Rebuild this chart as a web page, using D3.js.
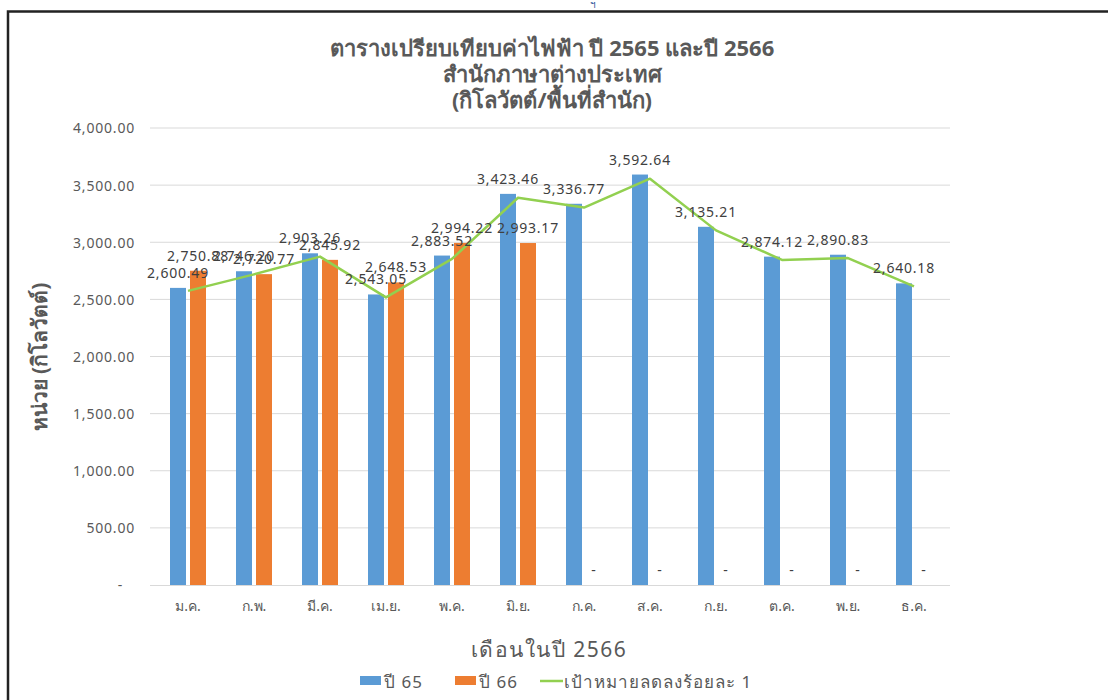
<!DOCTYPE html>
<html>
<head>
<meta charset="utf-8">
<script src="https://cdn.jsdelivr.net/npm/d3@7"></script>
<style>
  body { margin: 0; background: #fff; }
  text { font-family: Tahoma, "Noto Sans", "DejaVu Sans", sans-serif; }
</style>
</head>
<body>
<div id="chart"></div>
<script>
// data
var months = ['ม.ค.', 'ก.พ.', 'มี.ค.', 'เม.ย.', 'พ.ค.', 'มิ.ย.', 'ก.ค.', 'ส.ค.', 'ก.ย.', 'ต.ค.', 'พ.ย.', 'ธ.ค.'];
var year65 = [2600.49, 2746.20, 2903.26, 2543.05, 2883.52, 3423.46, 3336.77, 3592.64, 3135.21, 2874.12, 2890.83, 2640.18];
var year66 = [2750.88, 2720.77, 2845.92, 2648.53, 2994.22, 2993.17, 0, 0, 0, 0, 0, 0];
var target = [2574.49, 2718.74, 2874.23, 2517.62, 2854.68, 3389.23, 3303.40, 3556.71, 3103.86, 2845.38, 2861.92, 2613.78];
var yTicks = [0, 500, 1000, 1500, 2000, 2500, 3000, 3500, 4000];
var seriesNames = ['ปี 65', 'ปี 66', 'เป้าหมายลดลงร้อยละ 1'];
var titleLines = ['ตารางเปรียบเทียบค่าไฟฟ้า ปี 2565 และปี 2566', 'สำนักภาษาต่างประเทศ', '(กิโลวัตต์/พื้นที่สำนัก)'];

var width = 1108,
    height = 700;

var colors = ['#5b9bd5', '#ed7d31', '#92d050'];

var svg = d3.select('#chart').append('svg')
    .attr('width', width)
    .attr('height', height);

//frame
svg.append('path')
    .attr('d', 'M8,700 V11.5 H1108')
    .attr('fill', 'none')
    .attr('stroke', '#222')
    .attr('stroke-width', 2.5);

svg.append('text')
    .attr('x', 590).attr('y', 8)
    .attr('fill', '#2f5597')
    .attr('font-size', 10)
    .text('ฯ');

//scales
var x = d3.scaleBand()
    .domain(months)
    .range([155, 947]);

var groupW = 36;
var x1 = d3.scaleBand()
    .domain([0, 1])
    .range([0, groupW])
    .paddingInner(0.2);

var y = d3.scaleLinear()
    .domain([0, 4000])
    .range([585, 128]);

var fmt = d3.format(',.2f');

//gridlines
svg.append('g')
    .selectAll('line')
    .data(yTicks.slice(1))
  .enter().append('line')
    .attr('x1', 150).attr('x2', 950)
    .attr('y1', function(d){ return y(d); })
    .attr('y2', function(d){ return y(d); })
    .attr('stroke', '#d9d9d9')
    .attr('stroke-width', 1);

//y axis
var yAxis = d3.axisLeft(y)
    .tickValues(yTicks)
    .tickSize(0)
    .tickPadding(0)
    .tickFormat(function(d){ return d === 0 ? '-' : fmt(d); });

var gy = svg.append('g')
    .attr('transform', 'translate(135,0)')
    .call(yAxis);
gy.select('.domain').remove();
gy.selectAll('text')
    .attr('font-size', 14)
    .attr('letter-spacing', 0.8)
    .attr('fill', '#595959')
    .attr('font-family', null)
    .attr('dy', '0.35em')
    .attr('dx', function(d){ return d === 0 ? -12 : 0; });

//x axis
var xAxis = d3.axisBottom(x).tickSize(0).tickPadding(12);
var gx = svg.append('g')
    .attr('transform', 'translate(0,585)')
    .call(xAxis);
gx.select('.domain')
    .attr('stroke', '#d9d9d9')
    .attr('d', 'M150,0.5H950');
gx.selectAll('text')
    .attr('font-size', 14)
    .attr('fill', '#595959')
    .attr('font-family', null)
    .attr('dy', '1em');

//bars
var series = [year65, year66];
function barX(i, s) {
    return x(months[i]) + (x.bandwidth() - groupW) / 2 + x1(s);
}

series.forEach(function(vals, s){
    svg.append('g')
        .selectAll('rect')
        .data(vals)
      .enter().append('rect')
        .attr('x', function(d, i){ return barX(i, s); })
        .attr('width', x1.bandwidth())
        .attr('y', function(d){ return y(d); })
        .attr('height', function(d){ return y(0) - y(d); })
        .attr('fill', colors[s]);
});

//target line
var line = d3.line()
    .x(function(d, i){ return x(months[i]) + x.bandwidth() / 2; })
    .y(function(d){ return y(d); });

svg.append('path')
    .datum(target)
    .attr('d', line)
    .attr('fill', 'none')
    .attr('stroke', colors[2])
    .attr('stroke-width', 2.5)
    .attr('stroke-linejoin', 'round');

//data labels
series.forEach(function(vals, s){
    svg.append('g')
        .selectAll('text')
        .data(vals)
      .enter().append('text')
        .attr('x', function(d, i){ return barX(i, s) + x1.bandwidth() / 2; })
        .attr('y', function(d){ return y(d) - 10; })
        .attr('text-anchor', 'middle')
        .attr('font-size', 14)
        .attr('letter-spacing', 0.8)
        .attr('fill', '#404040')
        .text(function(d){ return d === 0 ? '-' : fmt(d); });
});

//title
svg.append('g')
    .selectAll('text')
    .data(titleLines)
  .enter().append('text')
    .attr('x', 552)
    .attr('y', function(d, i){ return 56 + i * 26; })
    .attr('text-anchor', 'middle')
    .attr('font-size', 22)
    .attr('font-weight', 'bold')
    .attr('fill', '#595959')
    .text(function(d){ return d; });

//axis titles
svg.append('text')
    .attr('transform', 'translate(47,357) rotate(-90)')
    .attr('text-anchor', 'middle')
    .attr('font-size', 21)
    .attr('font-weight', 'bold')
    .attr('fill', '#595959')
    .text('หน่วย (กิโลวัตต์)');

svg.append('text')
    .attr('x', 549).attr('y', 657)
    .attr('text-anchor', 'middle')
    .attr('font-size', 21)
    .attr('letter-spacing', 1.5)
    .attr('fill', '#595959')
    .text('เดือนในปี 2566');

//legend
var legendX = [360, 455, 540];
var legend = svg.append('g');
seriesNames.forEach(function(name, i){
    var g = legend.append('g').attr('transform', 'translate(' + legendX[i] + ',682)');
    if (i < 2) {
        g.append('rect').attr('x', 0).attr('y', -6).attr('width', 21).attr('height', 9).attr('fill', colors[i]);
    } else {
        g.append('line').attr('x1', 0).attr('x2', 23).attr('y1', -1).attr('y2', -1)
            .attr('stroke', colors[i]).attr('stroke-width', 2.5);
    }
    g.append('text')
        .attr('x', 24).attr('y', 6)
        .attr('font-size', 17)
        .attr('letter-spacing', 1)
        .attr('fill', '#595959')
        .text(name);
});
</script>
</body>
</html>
